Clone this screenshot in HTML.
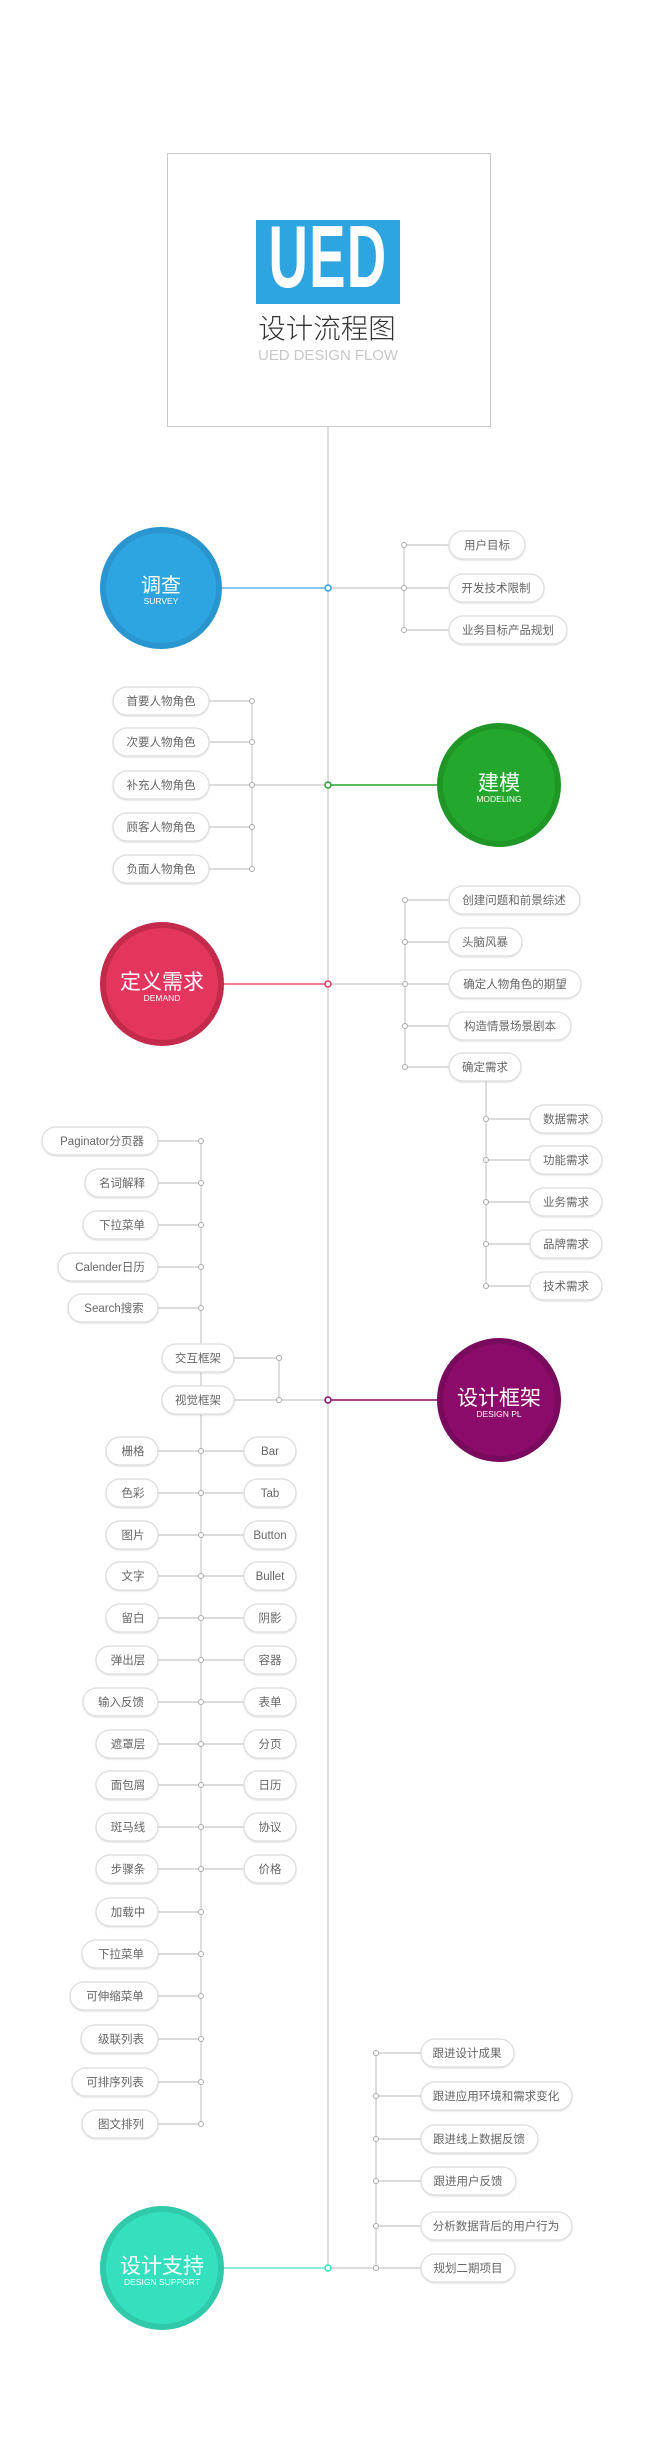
<!DOCTYPE html>
<html><head><meta charset="utf-8">
<style>
html,body{margin:0;padding:0;background:#fff;}
svg{display:block;}
.p rect{fill:#fff;stroke:#dcdcdc;stroke-width:1.2;}
.p text,.t{font-family:"Liberation Sans","Noto Sans CJK SC",sans-serif;font-size:11.5px;fill:#666;text-anchor:middle;}
.l{stroke:#c8c8c8;stroke-width:1.2;fill:none;}
.d{fill:#fff;stroke:#aaa;stroke-width:1;}
.ct{font-family:"Liberation Sans","Noto Sans CJK SC",sans-serif;fill:#fff;text-anchor:middle;}
</style></head><body>
<svg width="658" height="2463" viewBox="0 0 658 2463" xmlns="http://www.w3.org/2000/svg">
<defs>
<filter id="sh" x="-10%" y="-20%" width="120%" height="150%"><feDropShadow dx="0" dy="1" stdDeviation="0.8" flood-color="#000" flood-opacity="0.12"/></filter>
</defs>
<!-- header box -->
<rect x="167.5" y="153.5" width="323" height="273" fill="#fff" stroke="#c8c8c8"/>
<rect x="256" y="220" width="144" height="84" fill="#2ea5e0"/>
<text x="328" y="287" font-family="Liberation Sans,sans-serif" font-weight="bold" font-size="88" fill="#fff" text-anchor="middle" transform="translate(328 0) scale(0.62 1) translate(-328 0)" letter-spacing="2">UED</text>
<text x="327" y="338" font-family="Liberation Sans,Noto Sans CJK SC,sans-serif" font-size="27.5" fill="#333" text-anchor="middle" font-weight="300">设计流程图</text>
<text x="328" y="360" font-family="Liberation Sans,sans-serif" font-size="15" fill="#c8c8c8" text-anchor="middle" textLength="140">UED DESIGN FLOW</text>
<!-- spine -->
<line class="l" x1="328" y1="427" x2="328" y2="2268"/>

<!-- SURVEY -->
<line x1="222" y1="588" x2="325" y2="588" stroke="#5ab8ea" stroke-width="1.5"/>
<line class="l" x1="331" y1="588" x2="404" y2="588"/>
<line class="l" x1="404" y1="545" x2="404" y2="630"/>
<g class="l"><line x1="404" y1="545" x2="449" y2="545"/><line x1="404" y1="588" x2="449" y2="588"/><line x1="404" y1="630" x2="449" y2="630"/></g>
<circle cx="161" cy="588" r="61" fill="#2a96cf"/><circle cx="161" cy="588" r="55" fill="#2ea5e0"/>
<text class="ct" x="161" y="592" font-size="20">调查</text><text class="ct" x="161" y="604" font-size="8.5">SURVEY</text>
<g class="p" filter="url(#sh)">
<rect x="449" y="531" width="76" height="28" rx="14"/><rect x="449" y="574" width="95" height="28" rx="14"/><rect x="449" y="616" width="118" height="28" rx="14"/>
</g>
<g class="p"><text x="487" y="549">用户目标</text><text x="496" y="592">开发技术限制</text><text x="508" y="634">业务目标产品规划</text></g>
<g class="d"><circle cx="404" cy="545" r="2.5"/><circle cx="404" cy="588" r="2.5"/><circle cx="404" cy="630" r="2.5"/></g>
<circle cx="328" cy="588" r="3" fill="#fff" stroke="#2ea5e0" stroke-width="1.5"/>

<!-- MODELING -->
<line x1="331" y1="785" x2="437" y2="785" stroke="#22a72c" stroke-width="1.5"/>
<line class="l" x1="252" y1="785" x2="325" y2="785"/>
<line class="l" x1="252" y1="701" x2="252" y2="869"/>
<g class="l"><line x1="209" y1="701" x2="252" y2="701"/><line x1="209" y1="742" x2="252" y2="742"/><line x1="209" y1="785" x2="252" y2="785"/><line x1="209" y1="827" x2="252" y2="827"/><line x1="209" y1="869" x2="252" y2="869"/></g>
<g class="p" filter="url(#sh)">
<rect x="113" y="687" width="96" height="28" rx="14"/><rect x="113" y="728" width="96" height="28" rx="14"/><rect x="113" y="771" width="96" height="28" rx="14"/><rect x="113" y="813" width="96" height="28" rx="14"/><rect x="113" y="855" width="96" height="28" rx="14"/>
</g>
<g class="p"><text x="161" y="705">首要人物角色</text><text x="161" y="746">次要人物角色</text><text x="161" y="789">补充人物角色</text><text x="161" y="831">顾客人物角色</text><text x="161" y="873">负面人物角色</text></g>
<g class="d"><circle cx="252" cy="701" r="2.5"/><circle cx="252" cy="742" r="2.5"/><circle cx="252" cy="785" r="2.5"/><circle cx="252" cy="827" r="2.5"/><circle cx="252" cy="869" r="2.5"/></g>
<circle cx="499" cy="785" r="62" fill="#1f9727"/><circle cx="499" cy="785" r="56" fill="#23a82d"/>
<text class="ct" x="499" y="790" font-size="21">建模</text><text class="ct" x="499" y="802" font-size="8.5">MODELING</text>
<circle cx="328" cy="785" r="3" fill="#fff" stroke="#22a72c" stroke-width="1.5"/>

<!-- DEMAND -->
<line x1="224" y1="984" x2="325" y2="984" stroke="#e3355e" stroke-width="1.2"/>
<line class="l" x1="331" y1="984" x2="405" y2="984"/>
<line class="l" x1="405" y1="900" x2="405" y2="1067"/>
<g class="l"><line x1="405" y1="900" x2="449" y2="900"/><line x1="405" y1="942" x2="449" y2="942"/><line x1="405" y1="984" x2="449" y2="984"/><line x1="405" y1="1026" x2="449" y2="1026"/><line x1="405" y1="1067" x2="449" y2="1067"/></g>
<line class="l" x1="486" y1="1081" x2="486" y2="1286"/>
<g class="l"><line x1="486" y1="1119" x2="530" y2="1119"/><line x1="486" y1="1160" x2="530" y2="1160"/><line x1="486" y1="1202" x2="530" y2="1202"/><line x1="486" y1="1244" x2="530" y2="1244"/><line x1="486" y1="1286" x2="530" y2="1286"/></g>
<g class="p" filter="url(#sh)">
<rect x="449" y="886" width="131" height="28" rx="14"/><rect x="449" y="928" width="73" height="28" rx="14"/><rect x="449" y="970" width="132" height="28" rx="14"/><rect x="449" y="1012" width="122" height="28" rx="14"/><rect x="449" y="1053" width="72" height="28" rx="14"/>
<rect x="530" y="1105" width="72" height="28" rx="14"/><rect x="530" y="1146" width="72" height="28" rx="14"/><rect x="530" y="1188" width="72" height="28" rx="14"/><rect x="530" y="1230" width="72" height="28" rx="14"/><rect x="530" y="1272" width="72" height="28" rx="14"/>
</g>
<g class="p"><text x="514" y="904">创建问题和前景综述</text><text x="485" y="946">头脑风暴</text><text x="515" y="988">确定人物角色的期望</text><text x="510" y="1030">构造情景场景剧本</text><text x="485" y="1071">确定需求</text>
<text x="566" y="1123">数据需求</text><text x="566" y="1164">功能需求</text><text x="566" y="1206">业务需求</text><text x="566" y="1248">品牌需求</text><text x="566" y="1290">技术需求</text></g>
<g class="d"><circle cx="405" cy="900" r="2.5"/><circle cx="405" cy="942" r="2.5"/><circle cx="405" cy="984" r="2.5"/><circle cx="405" cy="1026" r="2.5"/><circle cx="405" cy="1067" r="2.5"/>
<circle cx="486" cy="1119" r="2.5"/><circle cx="486" cy="1160" r="2.5"/><circle cx="486" cy="1202" r="2.5"/><circle cx="486" cy="1244" r="2.5"/><circle cx="486" cy="1286" r="2.5"/></g>
<circle cx="162" cy="984" r="62" fill="#c42a4c"/><circle cx="162" cy="984" r="56" fill="#e3355e"/>
<text class="ct" x="162" y="989" font-size="21">定义需求</text><text class="ct" x="162" y="1001" font-size="8.5">DEMAND</text>
<circle cx="328" cy="984" r="3" fill="#fff" stroke="#e3355e" stroke-width="1.5"/>

<!-- DESIGN FRAME -->
<line x1="331" y1="1400" x2="437" y2="1400" stroke="#8c0a6a" stroke-width="1.5"/>
<line class="l" x1="234" y1="1400" x2="325" y2="1400"/>
<line class="l" x1="279" y1="1358" x2="279" y2="1400"/>
<line class="l" x1="234" y1="1358" x2="279" y2="1358"/>
<line class="l" x1="201" y1="1141" x2="201" y2="2124"/>
<g class="l">
<line x1="158" y1="1141" x2="201" y2="1141"/><line x1="158" y1="1183" x2="201" y2="1183"/><line x1="158" y1="1225" x2="201" y2="1225"/><line x1="158" y1="1267" x2="201" y2="1267"/><line x1="158" y1="1308" x2="201" y2="1308"/>
<line x1="158" y1="1451" x2="244" y2="1451"/><line x1="158" y1="1493" x2="244" y2="1493"/><line x1="158" y1="1535" x2="244" y2="1535"/><line x1="158" y1="1576" x2="244" y2="1576"/><line x1="158" y1="1618" x2="244" y2="1618"/><line x1="158" y1="1660" x2="244" y2="1660"/><line x1="158" y1="1702" x2="244" y2="1702"/><line x1="158" y1="1744" x2="244" y2="1744"/><line x1="158" y1="1785" x2="244" y2="1785"/><line x1="158" y1="1827" x2="244" y2="1827"/><line x1="158" y1="1869" x2="244" y2="1869"/>
<line x1="158" y1="1912" x2="201" y2="1912"/><line x1="158" y1="1954" x2="201" y2="1954"/><line x1="158" y1="1996" x2="201" y2="1996"/><line x1="158" y1="2039" x2="201" y2="2039"/><line x1="158" y1="2082" x2="201" y2="2082"/><line x1="158" y1="2124" x2="201" y2="2124"/>
</g>
<g class="p" filter="url(#sh)">
<rect x="42" y="1127" width="116" height="28" rx="14"/><rect x="85" y="1169" width="73" height="28" rx="14"/><rect x="83" y="1211" width="75" height="28" rx="14"/><rect x="58" y="1253" width="100" height="28" rx="14"/><rect x="68" y="1294" width="90" height="28" rx="14"/>
<rect x="162" y="1344" width="72" height="28" rx="14"/><rect x="162" y="1386" width="72" height="28" rx="14"/>
<rect x="106" y="1437" width="52" height="28" rx="14"/><rect x="106" y="1479" width="52" height="28" rx="14"/><rect x="106" y="1521" width="52" height="28" rx="14"/><rect x="106" y="1562" width="52" height="28" rx="14"/><rect x="106" y="1604" width="52" height="28" rx="14"/>
<rect x="96" y="1646" width="62" height="28" rx="14"/><rect x="83" y="1688" width="75" height="28" rx="14"/><rect x="96" y="1730" width="62" height="28" rx="14"/><rect x="96" y="1771" width="62" height="28" rx="14"/><rect x="96" y="1813" width="62" height="28" rx="14"/><rect x="96" y="1855" width="62" height="28" rx="14"/><rect x="96" y="1898" width="62" height="28" rx="14"/>
<rect x="82" y="1940" width="76" height="28" rx="14"/><rect x="70" y="1982" width="88" height="28" rx="14"/><rect x="81" y="2025" width="77" height="28" rx="14"/><rect x="72" y="2068" width="86" height="28" rx="14"/><rect x="82" y="2110" width="76" height="28" rx="14"/>
<rect x="244" y="1437" width="52" height="28" rx="14"/><rect x="244" y="1479" width="52" height="28" rx="14"/><rect x="244" y="1521" width="52" height="28" rx="14"/><rect x="244" y="1562" width="52" height="28" rx="14"/><rect x="244" y="1604" width="52" height="28" rx="14"/><rect x="244" y="1646" width="52" height="28" rx="14"/><rect x="244" y="1688" width="52" height="28" rx="14"/><rect x="244" y="1730" width="52" height="28" rx="14"/><rect x="244" y="1771" width="52" height="28" rx="14"/><rect x="244" y="1813" width="52" height="28" rx="14"/><rect x="244" y="1855" width="52" height="28" rx="14"/>
</g>
<g class="p">
<text x="102" y="1145">Paginator分页器</text><text x="122" y="1187">名词解释</text><text x="122" y="1229">下拉菜单</text><text x="110" y="1271">Calender日历</text><text x="114" y="1312">Search搜索</text>
<text x="198" y="1362">交互框架</text><text x="198" y="1404">视觉框架</text>
<text x="133" y="1455">栅格</text><text x="133" y="1497">色彩</text><text x="133" y="1539">图片</text><text x="133" y="1580">文字</text><text x="133" y="1622">留白</text>
<text x="128" y="1664">弹出层</text><text x="121" y="1706">输入反馈</text><text x="128" y="1748">遮罩层</text><text x="128" y="1789">面包屑</text><text x="128" y="1831">斑马线</text><text x="128" y="1873">步骤条</text><text x="128" y="1916">加载中</text>
<text x="121" y="1958">下拉菜单</text><text x="115" y="2000">可伸缩菜单</text><text x="121" y="2043">级联列表</text><text x="115" y="2086">可排序列表</text><text x="121" y="2128">图文排列</text>
<text x="270" y="1455">Bar</text><text x="270" y="1497">Tab</text><text x="270" y="1539">Button</text><text x="270" y="1580">Bullet</text><text x="270" y="1622">阴影</text><text x="270" y="1664">容器</text><text x="270" y="1706">表单</text><text x="270" y="1748">分页</text><text x="270" y="1789">日历</text><text x="270" y="1831">协议</text><text x="270" y="1873">价格</text>
</g>
<g class="d">
<circle cx="201" cy="1141" r="2.5"/><circle cx="201" cy="1183" r="2.5"/><circle cx="201" cy="1225" r="2.5"/><circle cx="201" cy="1267" r="2.5"/><circle cx="201" cy="1308" r="2.5"/>
<circle cx="279" cy="1358" r="2.5"/><circle cx="279" cy="1400" r="2.5"/>
<circle cx="201" cy="1451" r="2.5"/><circle cx="201" cy="1493" r="2.5"/><circle cx="201" cy="1535" r="2.5"/><circle cx="201" cy="1576" r="2.5"/><circle cx="201" cy="1618" r="2.5"/><circle cx="201" cy="1660" r="2.5"/><circle cx="201" cy="1702" r="2.5"/><circle cx="201" cy="1744" r="2.5"/><circle cx="201" cy="1785" r="2.5"/><circle cx="201" cy="1827" r="2.5"/><circle cx="201" cy="1869" r="2.5"/>
<circle cx="201" cy="1912" r="2.5"/><circle cx="201" cy="1954" r="2.5"/><circle cx="201" cy="1996" r="2.5"/><circle cx="201" cy="2039" r="2.5"/><circle cx="201" cy="2082" r="2.5"/><circle cx="201" cy="2124" r="2.5"/>
</g>
<circle cx="499" cy="1400" r="62" fill="#7a0a5d"/><circle cx="499" cy="1400" r="56" fill="#8c0a6a"/>
<text class="ct" x="499" y="1405" font-size="21">设计框架</text><text class="ct" x="499" y="1417" font-size="8.5">DESIGN PL</text>
<circle cx="328" cy="1400" r="3" fill="#fff" stroke="#8c0a6a" stroke-width="1.5"/>

<!-- SUPPORT -->
<line x1="224" y1="2268" x2="325" y2="2268" stroke="#6fe6cf" stroke-width="1.5"/>
<line class="l" x1="331" y1="2268" x2="376" y2="2268"/>
<line class="l" x1="376" y1="2053" x2="376" y2="2268"/>
<g class="l"><line x1="376" y1="2053" x2="421" y2="2053"/><line x1="376" y1="2096" x2="421" y2="2096"/><line x1="376" y1="2139" x2="421" y2="2139"/><line x1="376" y1="2181" x2="421" y2="2181"/><line x1="376" y1="2226" x2="421" y2="2226"/><line x1="376" y1="2268" x2="421" y2="2268"/></g>
<g class="p" filter="url(#sh)">
<rect x="421" y="2039" width="93" height="28" rx="14"/><rect x="421" y="2082" width="151" height="28" rx="14"/><rect x="421" y="2125" width="117" height="28" rx="14"/><rect x="421" y="2167" width="95" height="28" rx="14"/><rect x="421" y="2212" width="151" height="28" rx="14"/><rect x="421" y="2254" width="94" height="28" rx="14"/>
</g>
<g class="p"><text x="467" y="2057">跟进设计成果</text><text x="496" y="2100">跟进应用环境和需求变化</text><text x="479" y="2143">跟进线上数据反馈</text><text x="468" y="2185">跟进用户反馈</text><text x="496" y="2230">分析数据背后的用户行为</text><text x="468" y="2272">规划二期项目</text></g>
<g class="d"><circle cx="376" cy="2053" r="2.5"/><circle cx="376" cy="2096" r="2.5"/><circle cx="376" cy="2139" r="2.5"/><circle cx="376" cy="2181" r="2.5"/><circle cx="376" cy="2226" r="2.5"/><circle cx="376" cy="2268" r="2.5"/></g>
<circle cx="162" cy="2268" r="62" fill="#30c9a9"/><circle cx="162" cy="2268" r="56" fill="#35e0bf"/>
<text class="ct" x="162" y="2273" font-size="21">设计支持</text><text class="ct" x="162" y="2285" font-size="8.5">DESIGN SUPPORT</text>
<circle cx="328" cy="2268" r="3" fill="#fff" stroke="#35e0bf" stroke-width="1.5"/>
</svg>
</body></html>
